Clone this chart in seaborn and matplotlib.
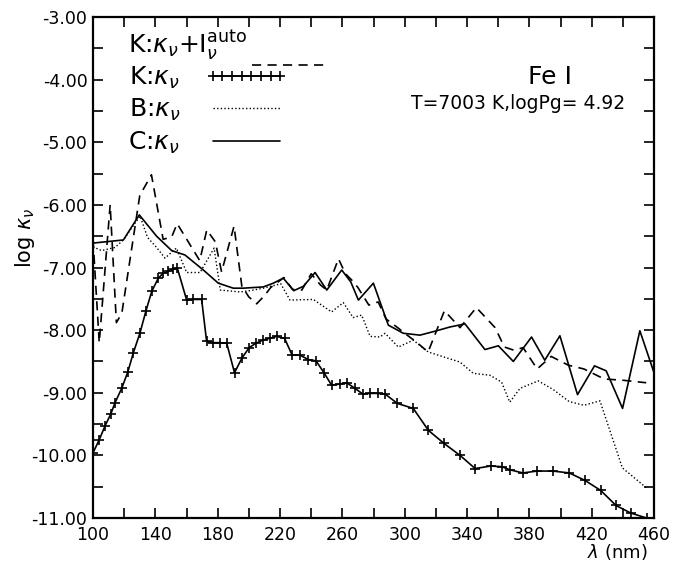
import matplotlib
matplotlib.use('Agg')
import matplotlib.pyplot as plt
import seaborn as sns
from matplotlib.ticker import MultipleLocator, FormatStrFormatter

# K: kappa + I auto (dashed)
wl_auto = [100, 104, 111, 115, 118.5, 130, 137.5, 145, 150.5, 154, 168.5, 173, 178.5,
           182.5, 190.5, 195.5, 200, 205, 210, 214, 222.5, 228, 234, 240, 246, 250,
           257.5, 262, 266, 270, 277, 283, 288, 296, 300, 308, 315, 325.5, 335.5,
           346, 358, 364, 370, 376, 385, 394, 405, 415, 428, 440, 455]
logk_auto = [-6.55, -8.2, -6.0, -7.88, -7.73, -5.85, -5.52, -6.55, -6.51, -6.30, -6.89,
             -6.40, -6.59, -7.07, -6.34, -7.3, -7.47, -7.58, -7.45, -7.32, -7.16, -7.35,
             -7.36, -7.1, -7.28, -7.36, -6.86, -7.1, -7.2, -7.32, -7.6, -7.55, -7.82,
             -7.97, -8.05, -8.2, -8.35, -7.69, -7.96, -7.64, -7.96, -8.27, -8.32,
             -8.28, -8.62, -8.42, -8.56, -8.62, -8.78, -8.80, -8.84]

# K: kappa (crosses)
wl_k = [100, 104, 107.7, 111.4, 114.1, 118.4, 122.3, 125.9, 130.2, 134, 137.7, 141.9,
        145.1, 148.3, 151.1, 154.1, 160.1, 164.3, 169.7, 172.9, 177.2, 181.5, 185.8,
        190.8, 195.7, 200.2, 204.5, 208.9, 213.3, 217.8, 222.9, 227.8, 232.8, 238.2,
        243.1, 248.2, 253.1, 258.5, 262.8, 268.1, 273.1, 277.8, 282.6, 287.4, 295.3,
        305.5, 315.2, 325.3, 335.5, 345.2, 355.2, 362.2, 367.6, 375.7, 385.1, 394.9,
        405.6, 415.7, 425.8, 435.6, 445, 455.2]
logk_k = [-9.96, -9.75, -9.53, -9.34, -9.16, -8.93, -8.67, -8.36, -8.04, -7.69, -7.38,
          -7.17, -7.09, -7.06, -7.03, -7.01, -7.52, -7.51, -7.51, -8.18, -8.20, -8.20,
          -8.21, -8.68, -8.44, -8.28, -8.21, -8.16, -8.13, -8.10, -8.13, -8.40, -8.40,
          -8.47, -8.49, -8.68, -8.88, -8.86, -8.84, -8.93, -9.02, -9.01, -9.01, -9.02,
          -9.17, -9.25, -9.60, -9.81, -10.00, -10.21, -10.17, -10.18, -10.23, -10.28,
          -10.25, -10.25, -10.28, -10.40, -10.56, -10.80, -10.92, -11.0]

# B: kappa (dotted)
wl_b = [100, 105.5, 114.1, 119.5, 125, 130.2, 135, 140.8, 146.2, 153.5, 160.1, 168.7,
        177.7, 181.7, 194.3, 200.7, 209.3, 220.5, 226.4, 241.4, 253.1, 260.6, 266.9,
        272.4, 277.8, 284.2, 287.4, 295.9, 305.5, 315.2, 335.5, 344, 354.7, 362.2,
        367.4, 374, 385.7, 395.4, 405.5, 415, 425.3, 439.7, 455.2]
logk_b = [-6.67, -6.73, -6.68, -6.56, -6.36, -6.18, -6.52, -6.68, -6.85, -6.69, -7.08,
          -7.08, -6.69, -7.36, -7.39, -7.37, -7.33, -7.26, -7.52, -7.51, -7.71, -7.56,
          -7.80, -7.76, -8.10, -8.11, -8.05, -8.27, -8.16, -8.35, -8.51, -8.69, -8.72,
          -8.83, -9.15, -8.93, -8.81, -8.95, -9.14, -9.20, -9.13, -10.2, -10.52]

# C: kappa (solid)
wl_c = [100, 119.5, 129.7, 140.8, 150.5, 159, 170.8, 180.4, 190, 196.3, 209.3, 215.7,
        222.1, 228.8, 235, 242.5, 250, 259.6, 265.4, 270.3, 279.9, 289.5, 299.1, 309.8,
        320.5, 329, 338.7, 351.5, 360.1, 369.7, 381.4, 389.9, 399.6, 410.9, 421.8,
        429.3, 439.8, 450.9, 460]
logk_c = [-6.61, -6.56, -6.16, -6.50, -6.73, -6.80, -7.04, -7.25, -7.33, -7.33, -7.31,
          -7.25, -7.17, -7.37, -7.30, -7.08, -7.36, -7.04, -7.23, -7.52, -7.25, -7.92,
          -8.05, -8.08, -8.01, -7.95, -7.90, -8.31, -8.25, -8.50, -8.11, -8.48, -8.09,
          -9.03, -8.57, -8.65, -9.25, -8.01, -8.68]

label_auto = r'K:$\kappa_\nu$+I$_\nu^{\rm auto}$'
label_k = r'K:$\kappa_\nu$'
label_b = r'B:$\kappa_\nu$'
label_c = r'C:$\kappa_\nu$'

sns.set_style('ticks')
plt.rcParams['font.family'] = ['DejaVu Sans']
plt.rcParams['mathtext.fontset'] = 'dejavusans'
plt.rcParams['axes.unicode_minus'] = False
plt.rcParams['text.color'] = 'black'
plt.rcParams['axes.labelcolor'] = 'black'

fig = plt.figure(figsize=(6.91, 5.63), dpi=100)
ax = fig.add_axes([0.1346, 0.0799, 0.8119, 0.8899])

sns.lineplot(x=wl_auto, y=logk_auto, ax=ax, color='black', lw=1.2,
             linestyle=(0, (5.5, 3.8)), sort=False, estimator=None, label=label_auto)
sns.lineplot(x=wl_k, y=logk_k, ax=ax, color='black', lw=1.2, marker='+',
             markersize=6.5, markeredgewidth=1.2, markeredgecolor='black',
             sort=False, estimator=None, label=label_k)
sns.lineplot(x=wl_b, y=logk_b, ax=ax, color='black', lw=1.0,
             linestyle=(0, (1, 1.6)), sort=False, estimator=None, label=label_b)
sns.lineplot(x=wl_c, y=logk_c, ax=ax, color='black', lw=1.2,
             sort=False, estimator=None, label=label_c)

ax.set_xlim(100, 460)
ax.set_ylim(-11, -3)
ax.xaxis.set_major_locator(MultipleLocator(40, offset=20))
ax.xaxis.set_minor_locator(MultipleLocator(20))
ax.yaxis.set_major_locator(MultipleLocator(1))
ax.yaxis.set_minor_locator(MultipleLocator(0.5))
ax.xaxis.set_major_formatter(FormatStrFormatter('%d'))
ax.yaxis.set_major_formatter(FormatStrFormatter('%.2f'))
ax.tick_params(which='both', direction='in', top=True, right=True,
               length=7, width=1.2, color='black', labelcolor='black', labelsize=12.5)
ax.tick_params(axis='x', pad=6)
ax.tick_params(axis='y', pad=4)
for sp in ax.spines.values():
    sp.set_linewidth(1.6)
    sp.set_color('black')

ax.set_xlabel(r'$\lambda$ (nm)', fontsize=13)
ax.xaxis.set_label_coords(0.935, -0.048)
ax.set_ylabel(r'log $\kappa_\nu$', fontsize=15)
ax.yaxis.set_label_coords(-0.10, 0.56)

handles, labels = ax.get_legend_handles_labels()
# first key: label on its own, dashed sample sits lower and to the right
ax.text(0.063, 0.928, labels[0], transform=ax.transAxes, fontsize=18,
        ha='left', va='baseline')
leg1 = ax.legend(handles[:1], [''], loc='center left', bbox_to_anchor=(0.283, 0.9),
                 frameon=False, markerfirst=False, fontsize=18, handlelength=2.9,
                 handletextpad=0, borderaxespad=0, borderpad=0)
ax.add_artist(leg1)
ax.legend(handles[1:], labels[1:], loc='upper left', bbox_to_anchor=(0.063, 0.905),
          frameon=False, markerfirst=False, fontsize=18, handlelength=3.3,
          handletextpad=1.0, labelspacing=0.25, numpoints=8, borderaxespad=0, borderpad=0)

ax.text(0.815, 0.88, 'Fe I', transform=ax.transAxes, fontsize=18, ha='center', va='center')
ax.text(0.757, 0.828, 'T=7003 K,logPg= 4.92', transform=ax.transAxes, fontsize=13.5,
        ha='center', va='center')

fig.savefig('out.png', dpi=100)
